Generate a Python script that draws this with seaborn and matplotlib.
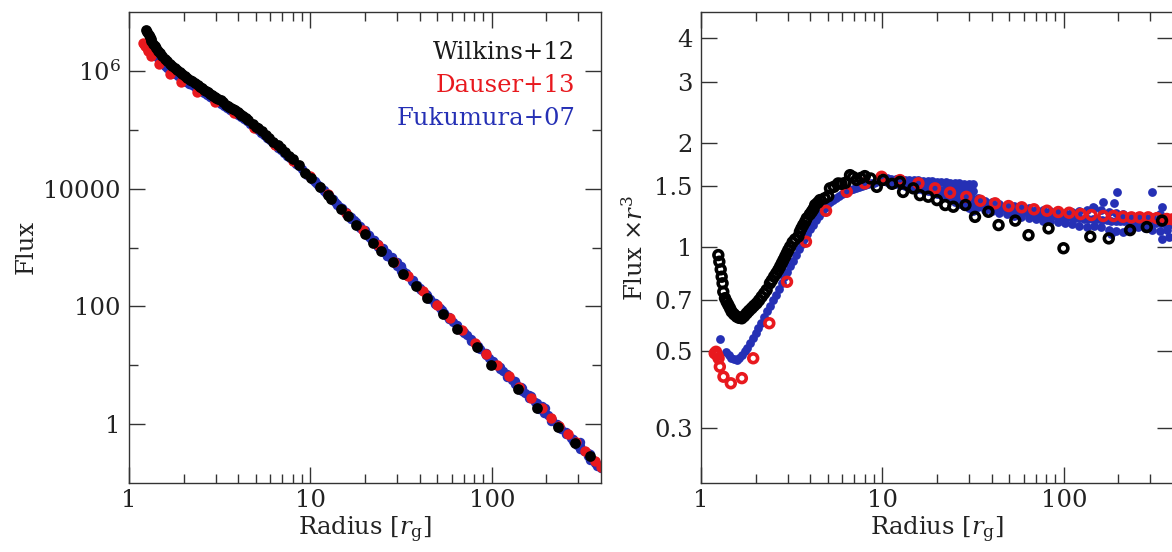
import numpy as np
import pandas as pd
import matplotlib
matplotlib.use("Agg")
import matplotlib.pyplot as plt
import seaborn as sns
from matplotlib.ticker import FixedLocator, FixedFormatter, NullFormatter, NullLocator

# ---------------------------------------------------------------------------
# Emissivity profiles: radius [r_g] and flux x r^3 (in units of FLUX_SCALE)
# ---------------------------------------------------------------------------
FLUX_SCALE = 1e7

wilkins_r = [1.246, 1.262, 1.284, 1.30, 1.315, 1.327, 1.356, 1.385, 1.414, 1.445,
             1.476, 1.52, 1.573, 1.62, 1.677, 1.73, 1.786, 1.84, 1.902, 1.96,
             2.026, 2.09, 2.16, 2.23, 2.30, 2.40, 2.46, 2.53, 2.60, 2.67,
             2.73, 2.79, 2.85, 2.91, 2.97, 3.03, 3.10, 3.20, 3.30, 3.44,
             3.51, 3.58, 3.66, 3.75, 3.83, 3.98, 4.08, 4.17, 4.26, 4.40,
             4.53, 4.80, 5.03, 5.14, 5.40, 5.71, 5.95, 6.25, 6.63, 6.90,
             7.20, 7.60, 8.00, 8.60, 9.31, 10.1, 11.3, 12.5, 13.0, 14.8,
             16.1, 17.9, 20.0, 22.2, 24.6, 28.7, 32.4, 38.4, 43.7, 54.0,
             63.9, 82.4, 99.6, 140, 177, 232, 287, 348]
wilkins_v = [0.946, 0.905, 0.86, 0.819, 0.784, 0.741, 0.71, 0.693, 0.679, 0.664,
             0.649, 0.638, 0.628, 0.623, 0.621, 0.630, 0.642, 0.653, 0.664, 0.675,
             0.686, 0.700, 0.717, 0.733, 0.75, 0.784, 0.80, 0.82, 0.838, 0.857,
             0.876, 0.896, 0.916, 0.936, 0.957, 0.978, 1.00, 1.03, 1.05, 1.07,
             1.105, 1.13, 1.155, 1.18, 1.208, 1.24, 1.262, 1.285, 1.32, 1.34,
             1.364, 1.38, 1.40, 1.475, 1.49, 1.524, 1.52, 1.53, 1.61, 1.59,
             1.56, 1.58, 1.60, 1.575, 1.49, 1.56, 1.52, 1.54, 1.44, 1.475,
             1.41, 1.395, 1.364, 1.32, 1.305, 1.32, 1.22, 1.262, 1.155, 1.19,
             1.08, 1.13, 0.99, 1.07, 1.057, 1.117, 1.14, 1.19]

dauser_r = [1.19, 1.21, 1.23, 1.25, 1.27, 1.33, 1.46, 1.68, 1.94, 2.38,
            2.98, 3.79, 4.89, 6.36, 8.0, 9.9, 12.5, 15.8, 19.5, 23.6,
            29.0, 34.7, 41.8, 49.6, 58.6, 68.5, 80.8, 93.3, 107, 124,
            142, 165, 188, 212, 236, 262, 292, 326, 370, 398]
dauser_v = [0.492, 0.497, 0.486, 0.476, 0.45, 0.421, 0.403, 0.417, 0.476, 0.601,
            0.792, 1.034, 1.27, 1.442, 1.525, 1.593, 1.558, 1.525, 1.475, 1.433,
            1.394, 1.358, 1.335, 1.311, 1.30, 1.283, 1.271, 1.26, 1.254, 1.243,
            1.235, 1.227, 1.227, 1.221, 1.216, 1.216, 1.216, 1.21, 1.203, 1.20]

fukumura_r = [1.28, 1.38, 1.42, 1.47, 1.52, 1.57, 1.62, 1.68, 1.74, 1.80,
              1.86, 1.93, 2.00, 2.07, 2.15, 2.23, 2.31, 2.40, 2.49, 2.58,
              2.68, 2.78, 2.88, 2.99, 3.10, 3.22, 3.34, 3.46, 3.59, 3.72,
              3.86, 4.00, 4.15, 4.30, 4.46, 4.63, 4.80, 4.98, 5.16, 5.35,
              5.55, 5.76, 5.97, 6.19, 6.42, 6.66, 6.91, 7.17, 7.44, 7.72,
              8.01, 8.31, 8.62, 8.94, 9.27, 9.62, 9.98,
              10.3, 10.9, 11.5, 12.2, 12.9, 13.7, 14.5, 15.4, 16.3, 17.3,
              18.3, 19.4, 20.5, 21.7, 23.0, 24.4, 25.8, 27.4, 29.0, 30.7,
              32.5, 34.4, 36.5, 38.6, 40.9, 43.3, 45.9, 48.6, 51.5, 54.5,
              57.7, 61.1, 64.7, 68.5, 72.6, 76.9, 81.4, 86.2, 91.3, 96.7,
              102, 108, 115, 122, 129, 136, 145, 153, 162, 172,
              182, 193, 204, 216, 229, 242, 257, 272, 288, 305,
              323, 342, 362, 384, 400]
fukumura_v = [0.54, 0.497, 0.488, 0.478, 0.474, 0.472, 0.476, 0.486, 0.498, 0.511,
              0.526, 0.545, 0.562, 0.582, 0.603, 0.628, 0.650, 0.676, 0.700, 0.727,
              0.755, 0.786, 0.817, 0.847, 0.877, 0.912, 0.947, 0.982, 1.017, 1.052,
              1.088, 1.122, 1.158, 1.192, 1.228, 1.262, 1.293, 1.320, 1.344, 1.365,
              1.385, 1.402, 1.417, 1.431, 1.444, 1.457, 1.470, 1.482, 1.493, 1.503,
              1.512, 1.520, 1.527, 1.533, 1.539, 1.544, 1.548,
              1.548, 1.545, 1.54, 1.535, 1.53, 1.522, 1.515, 1.507, 1.50, 1.49,
              1.48, 1.47, 1.46, 1.45, 1.44, 1.43, 1.42, 1.41, 1.40, 1.39,
              1.36, 1.345, 1.33, 1.32, 1.31, 1.30, 1.295, 1.29, 1.28, 1.27,
              1.265, 1.26, 1.25, 1.245, 1.24, 1.235, 1.23, 1.23, 1.225, 1.22,
              1.22, 1.215, 1.21, 1.21, 1.205, 1.20, 1.20, 1.20, 1.195, 1.195,
              1.19, 1.19, 1.19, 1.185, 1.185, 1.18, 1.18, 1.18, 1.175, 1.175,
              1.17, 1.17, 1.17, 1.165, 1.165]

# azimuthal spread of the Fukumura+07 profile (upper / lower envelope points)
fukumura_hi_r = [10.6, 11.2, 11.9, 12.6, 13.3, 14.1, 14.9, 15.8, 16.8, 17.8,
                 18.8, 19.9, 21.1, 22.4, 23.7, 25.1, 26.6, 28.2, 29.9, 31.6,
                 22.4, 23.7, 25.1, 26.6, 28.2, 29.9, 31.6,
                 33.5, 36.7, 40.3, 44.2, 48.5, 53.2, 58.3, 64.0, 70.2, 77.0,
                 84.4, 92.6, 102, 111, 122, 134, 147, 161, 177, 194,
                 213, 233, 256, 281, 308, 338, 370]
fukumura_hi_v = [1.575, 1.573, 1.57, 1.567, 1.564, 1.56, 1.557, 1.554, 1.55, 1.547,
                 1.544, 1.54, 1.537, 1.534, 1.53, 1.527, 1.524, 1.52, 1.517, 1.515,
                 1.49, 1.485, 1.48, 1.47, 1.46, 1.455, 1.45,
                 1.38, 1.36, 1.345, 1.33, 1.32, 1.31, 1.30, 1.29, 1.28, 1.275,
                 1.27, 1.26, 1.255, 1.26, 1.27, 1.28, 1.29, 1.28, 1.26, 1.25,
                 1.24, 1.23, 1.23, 1.22, 1.22, 1.24, 1.21]
fukumura_lo_r = [10.6, 11.2, 11.9, 12.6, 13.3, 14.1, 14.9, 15.8, 16.8, 17.8,
                 18.8, 19.9, 21.1, 22.4, 23.7, 25.1, 26.6, 28.2, 29.9, 31.6,
                 22.4, 23.7, 25.1, 26.6, 28.2, 29.9, 31.6,
                 33.5, 36.7, 40.3, 44.2, 48.5, 53.2, 58.3, 64.0, 70.2, 77.0,
                 84.4, 92.6, 102, 111, 122, 134, 147, 161, 177, 194,
                 213, 233, 256, 281, 308, 338, 370]
fukumura_lo_v = [1.535, 1.53, 1.52, 1.51, 1.50, 1.49, 1.48, 1.47, 1.46, 1.45,
                 1.44, 1.425, 1.41, 1.39, 1.37, 1.35, 1.33, 1.31, 1.29, 1.27,
                 1.415, 1.40, 1.385, 1.37, 1.355, 1.345, 1.33,
                 1.30, 1.28, 1.27, 1.25, 1.24, 1.23, 1.22, 1.21, 1.20, 1.19,
                 1.185, 1.18, 1.17, 1.16, 1.15, 1.14, 1.15, 1.14, 1.12, 1.11,
                 1.10, 1.12, 1.14, 1.13, 1.12, 1.11, 1.12]
fukumura_out_r = [145, 165, 188, 196, 181, 296, 306, 348, 348, 372, 380]
fukumura_out_v = [1.30, 1.35, 1.335, 1.44, 1.09, 1.14, 1.44, 1.05, 1.30, 1.15, 1.07]

series_names = ["Wilkins+12", "Dauser+13", "Fukumura+07"]
series_colors = ["#1a1a1a", "#e8191e", "#2530b5"]


def profile_frame(r, v):
    r = np.asarray(r, dtype=float)
    v = np.asarray(v, dtype=float)
    return pd.DataFrame({"radius": r, "profile": v, "flux": v * FLUX_SCALE / r ** 3})


wilkins = profile_frame(wilkins_r, wilkins_v)
dauser = profile_frame(dauser_r, dauser_v)
fukumura = pd.concat([profile_frame(fukumura_r, fukumura_v),
                      profile_frame(fukumura_hi_r, fukumura_hi_v),
                      profile_frame(fukumura_lo_r, fukumura_lo_v),
                      profile_frame(fukumura_out_r, fukumura_out_v)],
                     ignore_index=True)

# ---------------------------------------------------------------------------
# Style
# ---------------------------------------------------------------------------
sns.set_style("ticks")
plt.rcParams["font.family"] = ["DejaVu Serif"]
plt.rcParams["mathtext.fontset"] = "dejavuserif"
plt.rcParams["font.size"] = 17.5
plt.rcParams["text.color"] = "#222222"
plt.rcParams["axes.labelcolor"] = "#222222"
plt.rcParams["xtick.color"] = "#333333"
plt.rcParams["ytick.color"] = "#333333"
plt.rcParams["xtick.labelcolor"] = "#222222"
plt.rcParams["ytick.labelcolor"] = "#222222"

FIG_W, FIG_H = 1172, 552
fig = plt.figure(figsize=(FIG_W / 100, FIG_H / 100), dpi=100)
ax_flux = fig.add_axes([129 / FIG_W, 69 / FIG_H, 472 / FIG_W, 471 / FIG_H])
ax_norm = fig.add_axes([701 / FIG_W, 69 / FIG_H, 472 / FIG_W, 471 / FIG_H])

x_major = [1, 10, 100]
x_major_labels = ["1", "10", "100"]
x_minor = [2, 3, 4, 5, 6, 7, 8, 9, 20, 30, 40, 50, 60, 70, 80, 90, 200, 300]

for ax in (ax_flux, ax_norm):
    ax.set_xscale("log")
    ax.set_yscale("log")
    ax.set_xlim(1, 400)
    for sp in ax.spines.values():
        sp.set_color("#333333")
        sp.set_linewidth(1.0)
        sp.set_visible(True)

# ---------------------------------------------------------------------------
# Left panel: flux
# ---------------------------------------------------------------------------
sns.scatterplot(data=fukumura, x="radius", y="flux", ax=ax_flux, color=series_colors[2],
                s=46, linewidth=0, legend=False)
sns.scatterplot(data=dauser, x="radius", y="flux", ax=ax_flux, color=series_colors[1],
                s=56, linewidth=0, legend=False)
sns.scatterplot(data=wilkins, x="radius", y="flux", ax=ax_flux, color="#000000",
                s=60, linewidth=0, legend=False)

ax_flux.set_ylim(0.1, 1e7)
ax_flux.yaxis.set_major_locator(FixedLocator([1, 100, 1e4, 1e6]))
ax_flux.yaxis.set_major_formatter(FixedFormatter(["1", "100", "10000", r"$10^6$"]))
ax_flux.yaxis.set_minor_locator(FixedLocator([10, 1e3, 1e5]))
ax_flux.yaxis.set_minor_formatter(NullFormatter())
ax_flux.set_xlabel(r"Radius [$r_{\rm g}$]")
ax_flux.set_ylabel("Flux")

for i, (name, col) in enumerate(zip(series_names, series_colors)):
    ax_flux.text(0.945, 0.8995 - 0.0695 * i, name, color=col, ha="right",
                 va="baseline", transform=ax_flux.transAxes)

# ---------------------------------------------------------------------------
# Right panel: flux x r^3 (open rings for the two ray-traced profiles)
# ---------------------------------------------------------------------------
sns.scatterplot(data=fukumura, x="radius", y="profile", ax=ax_norm, color=series_colors[2],
                s=40, linewidth=0, legend=False)
sns.scatterplot(data=dauser, x="radius", y="profile", ax=ax_norm, facecolor="none",
                edgecolor=series_colors[1], s=40, linewidth=2.6, legend=False)
sns.scatterplot(data=wilkins, x="radius", y="profile", ax=ax_norm, facecolor="none",
                edgecolor="#000000", s=40, linewidth=2.6, legend=False)

ax_norm.set_ylim(0.2075, 4.77)
norm_ticks = [0.3, 0.5, 0.7, 1, 1.5, 2, 3, 4]
ax_norm.yaxis.set_major_locator(FixedLocator(norm_ticks))
ax_norm.yaxis.set_major_formatter(FixedFormatter(["0.3", "0.5", "0.7", "1", "1.5", "2", "3", "4"]))
ax_norm.yaxis.set_minor_locator(NullLocator())
ax_norm.set_xlabel(r"Radius [$r_{\rm g}$]")
ax_norm.set_ylabel(r"Flux $\times r^3$")

for ax in (ax_flux, ax_norm):
    ax.xaxis.set_major_locator(FixedLocator(x_major))
    ax.xaxis.set_major_formatter(FixedFormatter(x_major_labels))
    ax.xaxis.set_minor_locator(FixedLocator(x_minor))
    ax.xaxis.set_minor_formatter(NullFormatter())
    ax.tick_params(which="both", direction="in", top=True, right=True, width=1.0)
    ax.tick_params(which="major", length=11.5)
    ax.tick_params(which="minor", length=6.8)
    ax.tick_params(axis="x", which="major", pad=4)
    ax.tick_params(axis="y", which="major", pad=6)
    ax.xaxis.labelpad = 2

fig.savefig("out.png", dpi=100)
